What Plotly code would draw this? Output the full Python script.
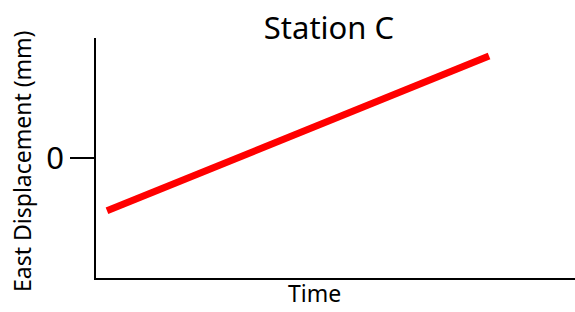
import plotly.graph_objects as go

# Data
time_vals = [1.0, 9.0]
east_disp = [-4.4, 8.5]
y_tick_vals = [0]
y_tick_text = ["0"]

FONT = "Noto Sans"

W, H = 575, 312
L, T, B = 96, 38, 312 - 278
PW, PH = W - L, H - T - B

fig = go.Figure()
fig.add_trace(go.Scatter(
    x=time_vals, y=east_disp, mode="lines",
    line=dict(color="#ff0000", width=7),
    showlegend=False, hoverinfo="skip",
))

fig.update_layout(
    width=W, height=H,
    margin=dict(l=L, r=0, t=T, b=B, pad=0),
    paper_bgcolor="white", plot_bgcolor="white",
    font=dict(family=FONT, color="black"),
    title=dict(text="Station C", x=329 / W, xanchor="center",
               y=1 - 28 / H, yanchor="middle", yref="container",
               font=dict(family=FONT, size=31, color="black")),
    xaxis=dict(range=[0.77, 10.8], showgrid=False, zeroline=False,
               showticklabels=False, ticks="", showline=True,
               linecolor="black", linewidth=1.5, fixedrange=True),
    yaxis=dict(range=[-10, 10], showgrid=False, zeroline=False,
               tickmode="array", tickvals=y_tick_vals, ticktext=y_tick_text,
               ticks="outside", ticklen=24, tickwidth=1.5, tickcolor="black",
               tickfont=dict(family=FONT, size=31, color="black"),
               showline=True, linecolor="black", linewidth=1.5,
               fixedrange=True),
    annotations=[
        dict(text="Time", xref="paper", yref="paper",
             x=(314 - L) / PW, y=-(311 - 278) / PH,
             xanchor="center", yanchor="bottom", showarrow=False,
             font=dict(family=FONT, size=23, color="black")),
        dict(text="East Displacement (mm)", xref="paper", yref="paper",
             x=-(L - 22) / PW, y=(278 - 161) / PH, textangle=-90,
             xanchor="center", yanchor="middle", showarrow=False,
             font=dict(family=FONT, size=23, color="black")),
    ],
)

fig.write_html("out.html", config={"displayModeBar": False},
               post_script="document.body.style.margin='0';")
